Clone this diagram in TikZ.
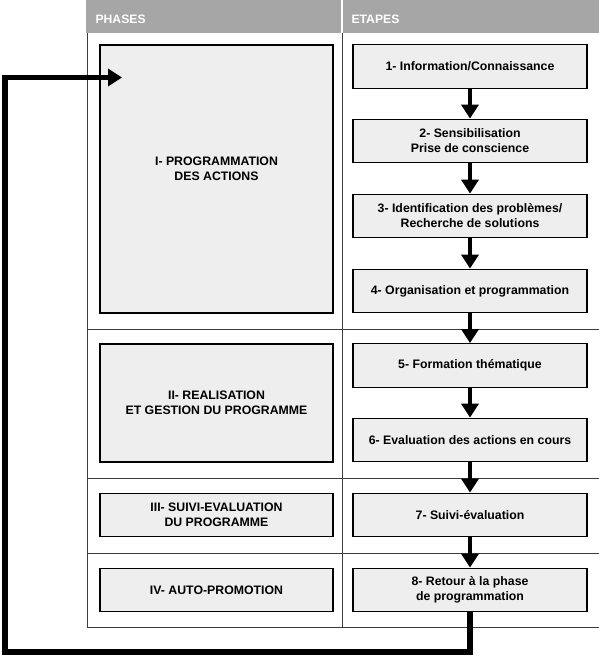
\documentclass[tikz,border=0pt]{standalone}
\usepackage{fontspec}
\setmainfont{Liberation Sans}
\usetikzlibrary{arrows.meta}
\definecolor{headgray}{HTML}{A6A6A6}
\definecolor{boxgray}{HTML}{EEEEEE}
\definecolor{rulegray}{HTML}{3C3C3C}
\tikzset{
  stepbox/.style={draw=black,line width=1.3pt,fill=boxgray,minimum width=234pt,minimum height=43.5pt,inner sep=0pt,align=center,font=\bfseries\fontsize{12.3}{15}\selectfont},
  phasebox/.style={stepbox,minimum width=233pt},
  headtext/.style={anchor=west,text=white,font=\bfseries\fontsize{12.2}{14}\selectfont},
  flow/.style={line width=4.5pt,-{Triangle[width=17pt,length=14pt]}},
  grid/.style={rulegray,line width=0.9pt}
}

\begin{document}
\begin{tikzpicture}[x=1pt,y=-1pt]
\useasboundingbox (0,0) rectangle (599,656);
\fill[headgray] (86,0) rectangle (599,33);
\draw[white,line width=1.2pt] (342,0) -- (342,33);
\node[headtext] (hphase) at (92,19) {PHASES};
\node[headtext] (hstep) at (348,19) {ETAPES};
\draw[grid] (87,33) -- (87,627) -- (599,627);
\draw[grid] (342,33) -- (342,627);
\draw[grid] (87,329) -- (599,329);
\draw[grid] (87,478) -- (599,478);
\draw[grid] (87,553) -- (599,553);
\node[phasebox,minimum height=268pt,text depth=21pt] (p1) at (216.5,179) {I- PROGRAMMATION\\DES ACTIONS};
\node[phasebox,minimum height=118pt] (p2) at (216.5,403) {II- REALISATION\\ET GESTION DU PROGRAMME};
\node[phasebox] (p3) at (216.5,515) {III- SUIVI-EVALUATION\\DU PROGRAMME};
\node[phasebox] (p4) at (216.5,590) {IV- AUTO-PROMOTION};
\node[stepbox] (s1) at (470,66.5) {1- Information/Connaissance};
\node[stepbox] (s2) at (470,141) {2- Sensibilisation\\Prise de conscience};
\node[stepbox] (s3) at (470,216) {3- Identification des problèmes/\\Recherche de solutions};
\node[stepbox] (s4) at (470,291) {4- Organisation et programmation};
\node[stepbox] (s5) at (470,365.5) {5- Formation thématique};
\node[stepbox] (s6) at (470,440) {6- Evaluation des actions en cours};
\node[stepbox] (s7) at (470,515) {7- Suivi-évaluation};
\node[stepbox] (s8) at (470,590) {8- Retour à la phase\\de programmation};
\draw[flow] (s1) -- (s2);
\draw[flow] (s2) -- (s3);
\draw[flow] (s3) -- (s4);
\draw[flow] (s4) -- (s5);
\draw[flow] (s5) -- (s6);
\draw[flow] (s6) -- (s7);
\draw[flow] (s7) -- (s8);
\coordinate (loopbl) at (5,652);
\coordinate (looptl) at (5,77.5);
\coordinate (back) at (122,77.5);
\draw[flow,line width=5.5pt] (s8.south) |- (loopbl) -- (looptl) -- (back);
\end{tikzpicture}
\end{document}
